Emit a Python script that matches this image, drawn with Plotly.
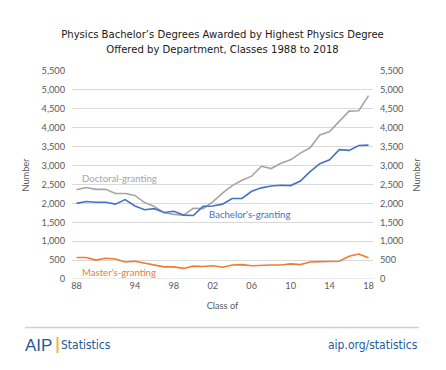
import plotly.graph_objects as go

years = list(range(1988, 2019))
doctoral = [2360, 2420, 2370, 2370, 2260, 2260, 2210, 2020, 1920, 1750, 1710, 1690, 1870, 1860,
            2040, 2270, 2470, 2610, 2720, 2980, 2920, 3060, 3150, 3330, 3470, 3810, 3900, 4180,
            4440, 4450, 4850]
bachelors = [2000, 2050, 2030, 2030, 1980, 2100, 1930, 1830, 1860, 1760, 1790, 1690, 1680, 1920,
             1930, 1980, 2130, 2130, 2320, 2410, 2460, 2480, 2470, 2590, 2840, 3050, 3150, 3420,
             3400, 3530, 3540]
masters = [570, 570, 500, 550, 530, 450, 470, 420, 380, 320, 320, 280, 340, 330,
           350, 310, 370, 380, 350, 370, 370, 370, 400, 380, 450, 460, 470, 470,
           600, 660, 560]
tick_years = [1988, 1994, 1998, 2002, 2006, 2010, 2014, 2018]
tick_text = ["88", "94", "98", "02", "06", "10", "14", "18"]
y_ticks = list(range(0, 5501, 500))
y_text = [f"{v:,}" for v in y_ticks]

GRAY = "#A5A5A5"
BLUE = "#4472C4"
ORANGE = "#ED7D31"
FOOT = "#1F5C99"
TICKC = "#595959"
FONT = "Lato"
TFONT = "DejaVu Sans Condensed, Roboto"
OFF = 8  # page body margin
TS = 9.2

fig = go.Figure()
for name, vals, col in [("Doctoral", doctoral, GRAY), ("Bachelor", bachelors, BLUE), ("Master", masters, ORANGE)]:
    fig.add_trace(go.Scatter(x=years, y=vals, mode="lines", line=dict(color=col, width=1.6),
                             name=name, showlegend=False, hoverinfo="skip"))
fig.add_trace(go.Scatter(x=years, y=bachelors, yaxis="y2", mode="lines",
                         line=dict(width=0), opacity=0, showlegend=False, hoverinfo="skip"))

fig.update_layout(
    width=446, height=370,
    margin=dict(l=72 - OFF, r=73 + OFF, t=71 - OFF, b=91 + OFF, autoexpand=False),
    paper_bgcolor="white", plot_bgcolor="white",
    font=dict(family=FONT, size=TS, color=TICKC),
    title=dict(text="Physics Bachelor’s Degrees Awarded by Highest Physics Degree<br>Offered by Department, Classes 1988 to 2018",
               x=0.5, xanchor="center", xref="paper", y=(370 - (38 - OFF)) / 370, yref="container", yanchor="middle",
               automargin=False,
               font=dict(family=TFONT, size=11.2, color="#1a1a1a")),
    xaxis=dict(range=[1987.54, 2018.46], tickvals=tick_years, ticktext=tick_text, automargin=False,
               showgrid=False, zeroline=False, showline=False, ticks="",
               tickfont=dict(size=TS, color=TICKC),
               title=dict(text="Class of", font=dict(size=TS, color=TICKC), standoff=12)),
    yaxis=dict(range=[0, 5500], tickvals=y_ticks, ticktext=y_text, showgrid=True, automargin=False,
               gridcolor="#D9D9D9", gridwidth=1, zeroline=False, showline=False, ticks="",
               tickfont=dict(size=TS, color=TICKC), ticklabelstandoff=6,
               title=dict(text="Number", font=dict(size=TS, color=TICKC), standoff=10)),
    yaxis2=dict(range=[0, 5500], tickvals=y_ticks, ticktext=y_text, overlaying="y", side="right",
                showgrid=False, zeroline=False, showline=False, ticks="", automargin=False,
                tickfont=dict(size=TS, color=TICKC), ticklabelstandoff=6,
                title=dict(text="Number", font=dict(size=TS, color=TICKC), standoff=10)),
)

fig.add_shape(type="line", xref="paper", yref="y", x0=0, x1=1, y0=0, y1=0,
              line=dict(color="#D9D9D9", width=1))

for txt, x, y, col in [("Doctoral-granting", 1988.4, 2660, GRAY),
                       ("Bachelor's-granting", 2001.4, 1716, BLUE),
                       ("Master's-granting", 1988.4, 185, ORANGE)]:
    fig.add_annotation(text=txt, x=x, y=y, xref="x", yref="y", xanchor="left", yanchor="middle",
                       showarrow=False, font=dict(family=FONT, size=9.6, color=col))

def px(v):
    return (v - 72) / 301.0

def py(v):
    return (279 - v) / 208.0

fig.add_shape(type="line", xref="paper", yref="paper", x0=px(25), x1=px(419), y0=py(327.5), y1=py(327.5),
              line=dict(color="#D0D0D0", width=1.5))
fig.add_annotation(text="AIP", xref="paper", yref="paper", x=px(23), y=py(345), xanchor="left",
                   yanchor="middle", showarrow=False, font=dict(family="Liberation Sans", size=17, color=FOOT))
fig.add_shape(type="line", xref="paper", yref="paper", x0=px(57.5), x1=px(57.5), y0=py(337), y1=py(353),
              line=dict(color="#F2B632", width=2))
fig.add_annotation(text="Statistics", xref="paper", yref="paper", x=px(59), y=py(345), xanchor="left",
                   yanchor="middle", showarrow=False, font=dict(family=TFONT, size=12, color=FOOT))
fig.add_annotation(text="aip.org/statistics", xref="paper", yref="paper", x=px(420), y=py(345), xanchor="right",
                   yanchor="middle", showarrow=False, font=dict(family=TFONT, size=12, color=FOOT))

fig.write_html("out.html")
